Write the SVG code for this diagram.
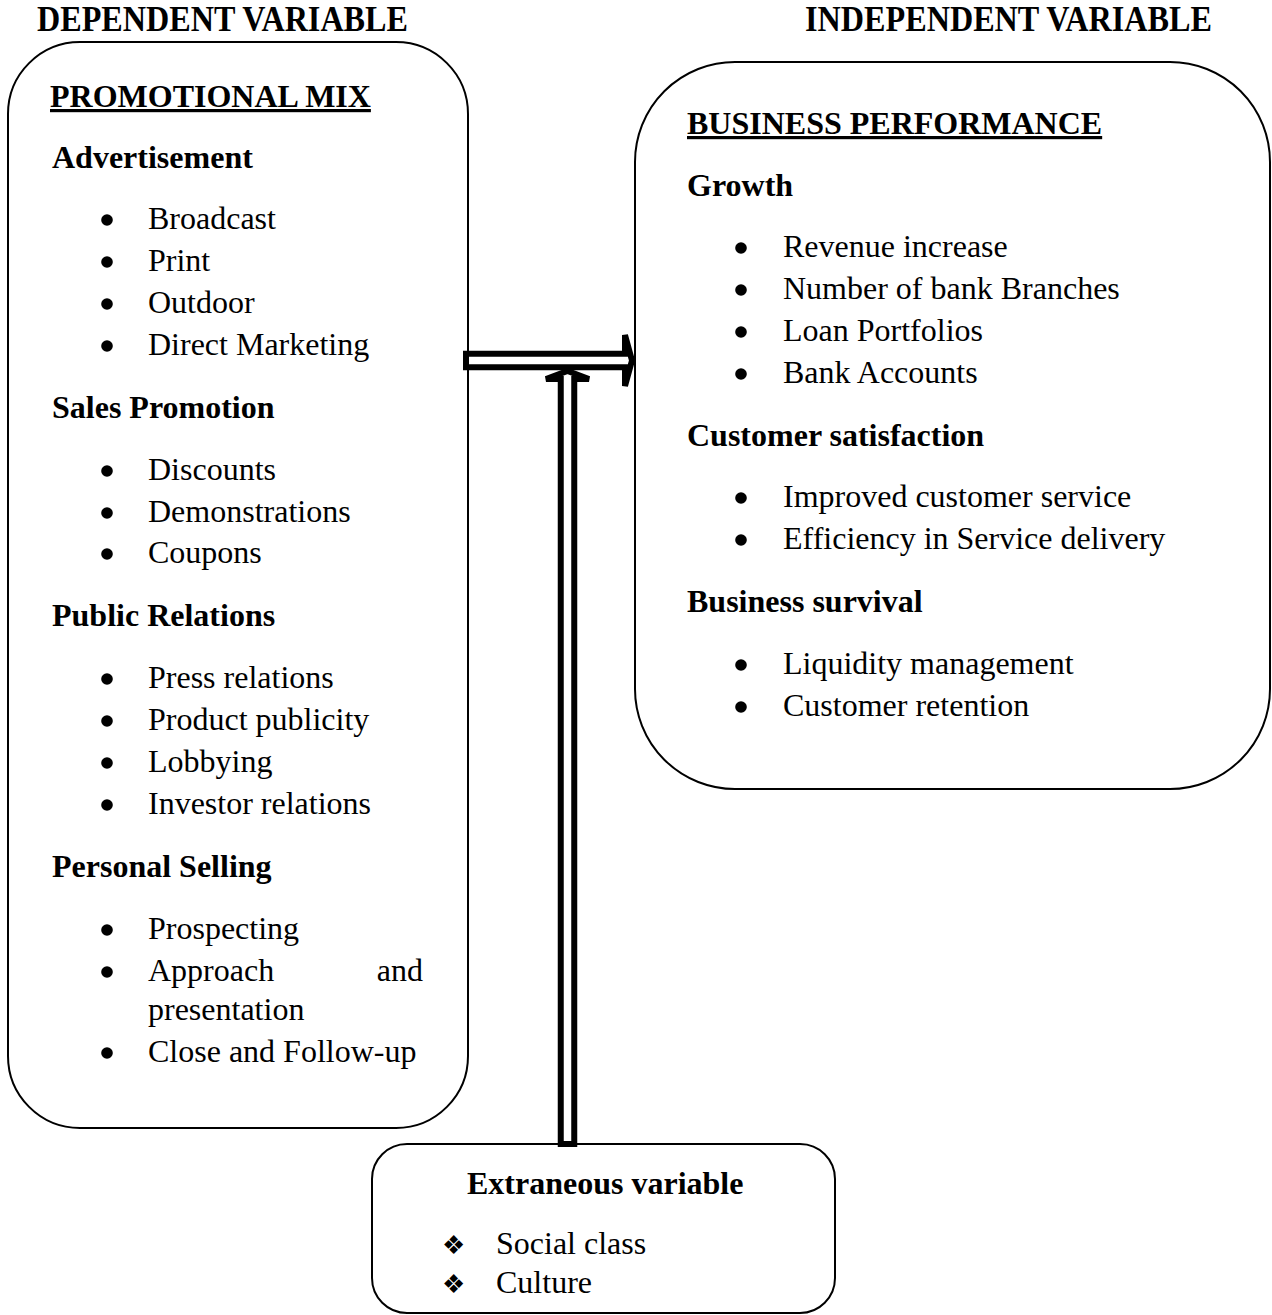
<svg xmlns="http://www.w3.org/2000/svg" width="1272" height="1315" viewBox="0 0 1272 1315">
<style>
text{font-family:"Liberation Serif","Times New Roman",serif;fill:#000}
.t{font-size:32px}
.b{font-size:32px;font-weight:bold}
.h{font-size:36px;font-weight:bold}
.u{text-decoration:underline}
.bul circle{fill:#000}
.dia{font-size:26px;font-family:"DejaVu Sans",sans-serif}
.box{fill:#fff;stroke:#000;stroke-width:2}
.arr{fill:#fff;stroke:#000;stroke-width:6;stroke-linejoin:miter}
</style>
<rect width="1272" height="1315" fill="#fff"/>
<text class="h" x="37" y="31" textLength="371" lengthAdjust="spacingAndGlyphs">DEPENDENT VARIABLE</text>
<text class="h" x="805" y="31" textLength="407" lengthAdjust="spacingAndGlyphs">INDEPENDENT VARIABLE</text>

<g id="promotional-mix">
<rect class="box" x="8" y="42" width="460" height="1086" rx="72" ry="72"/>
<text class="b u" x="50" y="107">PROMOTIONAL MIX</text>
<text class="b" x="52" y="168">Advertisement</text>
<g class="bul"><circle cx="107" cy="220" r="5.8"/><circle cx="107" cy="262" r="5.8"/><circle cx="107" cy="304" r="5.8"/><circle cx="107" cy="346" r="5.8"/></g>
<text class="t" x="148" y="229">Broadcast</text>
<text class="t" x="148" y="271">Print</text>
<text class="t" x="148" y="313">Outdoor</text>
<text class="t" x="148" y="355">Direct Marketing</text>
<text class="b" x="52" y="418">Sales Promotion</text>
<g class="bul"><circle cx="107" cy="471" r="5.8"/><circle cx="107" cy="513" r="5.8"/><circle cx="107" cy="554" r="5.8"/></g>
<text class="t" x="148" y="480">Discounts</text>
<text class="t" x="148" y="522">Demonstrations</text>
<text class="t" x="148" y="563">Coupons</text>
<text class="b" x="52" y="626">Public Relations</text>
<g class="bul"><circle cx="107" cy="679" r="5.8"/><circle cx="107" cy="721" r="5.8"/><circle cx="107" cy="763" r="5.8"/><circle cx="107" cy="805" r="5.8"/></g>
<text class="t" x="148" y="688">Press relations</text>
<text class="t" x="148" y="730">Product publicity</text>
<text class="t" x="148" y="772">Lobbying</text>
<text class="t" x="148" y="814">Investor relations</text>
<text class="b" x="52" y="877">Personal Selling</text>
<g class="bul"><circle cx="107" cy="930" r="5.8"/><circle cx="107" cy="972" r="5.8"/><circle cx="107" cy="1053" r="5.8"/></g>
<text class="t" x="148" y="939">Prospecting</text>
<text class="t" x="148" y="981">Approach</text>
<text class="t" x="423" y="981" text-anchor="end">and</text>
<text class="t" x="148" y="1020">presentation</text>
<text class="t" x="148" y="1062">Close and Follow-up</text>
</g>

<g id="business-performance">
<rect class="box" x="635" y="62" width="635" height="727" rx="100" ry="100"/>
<text class="b u" x="687" y="134">BUSINESS PERFORMANCE</text>
<text class="b" x="687" y="196">Growth</text>
<g class="bul"><circle cx="741" cy="248" r="5.8"/><circle cx="741" cy="290" r="5.8"/><circle cx="741" cy="332" r="5.8"/><circle cx="741" cy="374" r="5.8"/></g>
<text class="t" x="783" y="257">Revenue increase</text>
<text class="t" x="783" y="299">Number of bank Branches</text>
<text class="t" x="783" y="341">Loan Portfolios</text>
<text class="t" x="783" y="383">Bank Accounts</text>
<text class="b" x="687" y="446">Customer satisfaction</text>
<g class="bul"><circle cx="741" cy="498" r="5.8"/><circle cx="741" cy="540" r="5.8"/></g>
<text class="t" x="783" y="507">Improved customer service</text>
<text class="t" x="783" y="549">Efficiency in Service delivery</text>
<text class="b" x="687" y="612">Business survival</text>
<g class="bul"><circle cx="741" cy="665" r="5.8"/><circle cx="741" cy="707" r="5.8"/></g>
<text class="t" x="783" y="674">Liquidity management</text>
<text class="t" x="783" y="716">Customer retention</text>
</g>

<g id="extraneous-variable">
<rect class="box" x="372" y="1144" width="463" height="169" rx="35" ry="35"/>
<text class="b" x="467" y="1194">Extraneous variable</text>
<text class="dia" x="442" y="1254">❖</text>
<text class="dia" x="442" y="1293">❖</text>
<text class="t" x="496" y="1254">Social class</text>
<text class="t" x="496" y="1293">Culture</text>
</g>

<g id="connectors">
<path class="arr" d="M466,353.75 H625 V335 L632,360.5 L625,386 V367.25 H466 Z"/>
<path class="arr" d="M560.75,1144 V379 H546 L567.5,371 L589,379 H574.25 V1144 Z"/>
</g>
</svg>
